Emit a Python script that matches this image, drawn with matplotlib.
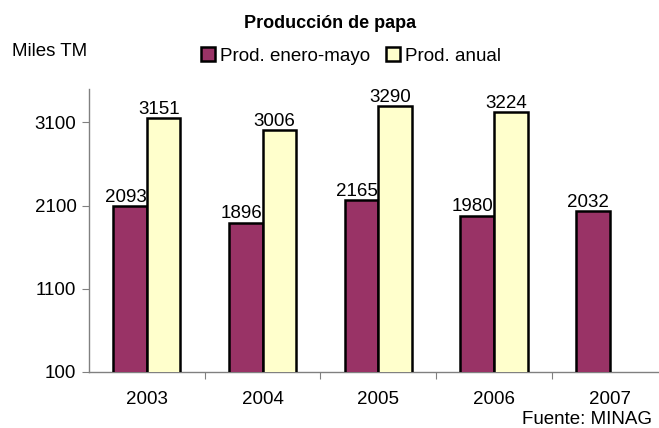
import matplotlib.pyplot as plt
import numpy as np

plt.rcParams['font.family'] = ['Liberation Sans', 'DejaVu Sans']

# datos
anios = ['2003', '2004', '2005', '2006', '2007']
enero_mayo = [2093, 1896, 2165, 1980, 2032]
anual = [3151, 3006, 3290, 3224]

morado = '#993366'
amarillo = '#FFFFCC'
fs = 13.5

fig = plt.figure(figsize=(6.59, 4.28), dpi=100)
ax = fig.add_axes([89 / 659, 56 / 428, 578.5 / 659, 283 / 428])

x = np.arange(len(anios))
w = 0.29
b1 = ax.bar(x - w / 2, enero_mayo, w, color=morado, edgecolor='black', linewidth=1.8,
            label='Prod. enero-mayo', zorder=3)
b2 = ax.bar(x[:len(anual)] + w / 2, anual, w, color=amarillo, edgecolor='black', linewidth=1.8,
            label='Prod. anual', zorder=3)

# etiquetas de valor
for barras, vals in [(b1, enero_mayo), (b2, anual)]:
    for r, v in zip(barras, vals):
        ax.text(r.get_x() + r.get_width() / 2 - 0.04, v + 5, str(v), ha='center', va='bottom',
                fontsize=fs, zorder=4)

ax.set_xlim(-0.5, 4.5)
ax.set_ylim(100, 3500)
ax.set_yticks([100, 1100, 2100, 3100])
ax.tick_params(axis='y', labelsize=fs, length=5, color='#808080', pad=4)

# ticks en los limites de categoria, etiquetas al centro
ax.set_xticks([0.5, 1.5, 2.5, 3.5])
ax.set_xticklabels([])
ax.set_xticks(x, minor=True)
ax.set_xticklabels(anios, minor=True)
ax.tick_params(axis='x', which='major', length=5, color='#808080')
ax.tick_params(axis='x', which='minor', length=0, labelsize=fs, pad=14)

for s in ['top', 'right']:
    ax.spines[s].set_visible(False)
for s in ['left', 'bottom']:
    ax.spines[s].set_color('#808080')
    ax.spines[s].set_linewidth(1.0)

fig.text(330 / 659, 1 - 23 / 428, 'Producción de papa', ha='center', va='center',
         fontsize=13, fontweight='bold')
fig.text(12 / 659, 1 - 52 / 428, 'Miles TM', ha='left', va='center', fontsize=fs)
fig.legend(handles=[b1, b2], loc='center', bbox_to_anchor=(351 / 659, 1 - 56 / 428), ncol=2,
           frameon=False, fontsize=fs, handlelength=0.75, handleheight=0.75, handletextpad=0.3,
           columnspacing=0.8, borderaxespad=0)
fig.text(652 / 659, 1 - 419 / 428, 'Fuente: MINAG', ha='right', va='center', fontsize=fs)

fig.savefig('out.png', dpi=100)
